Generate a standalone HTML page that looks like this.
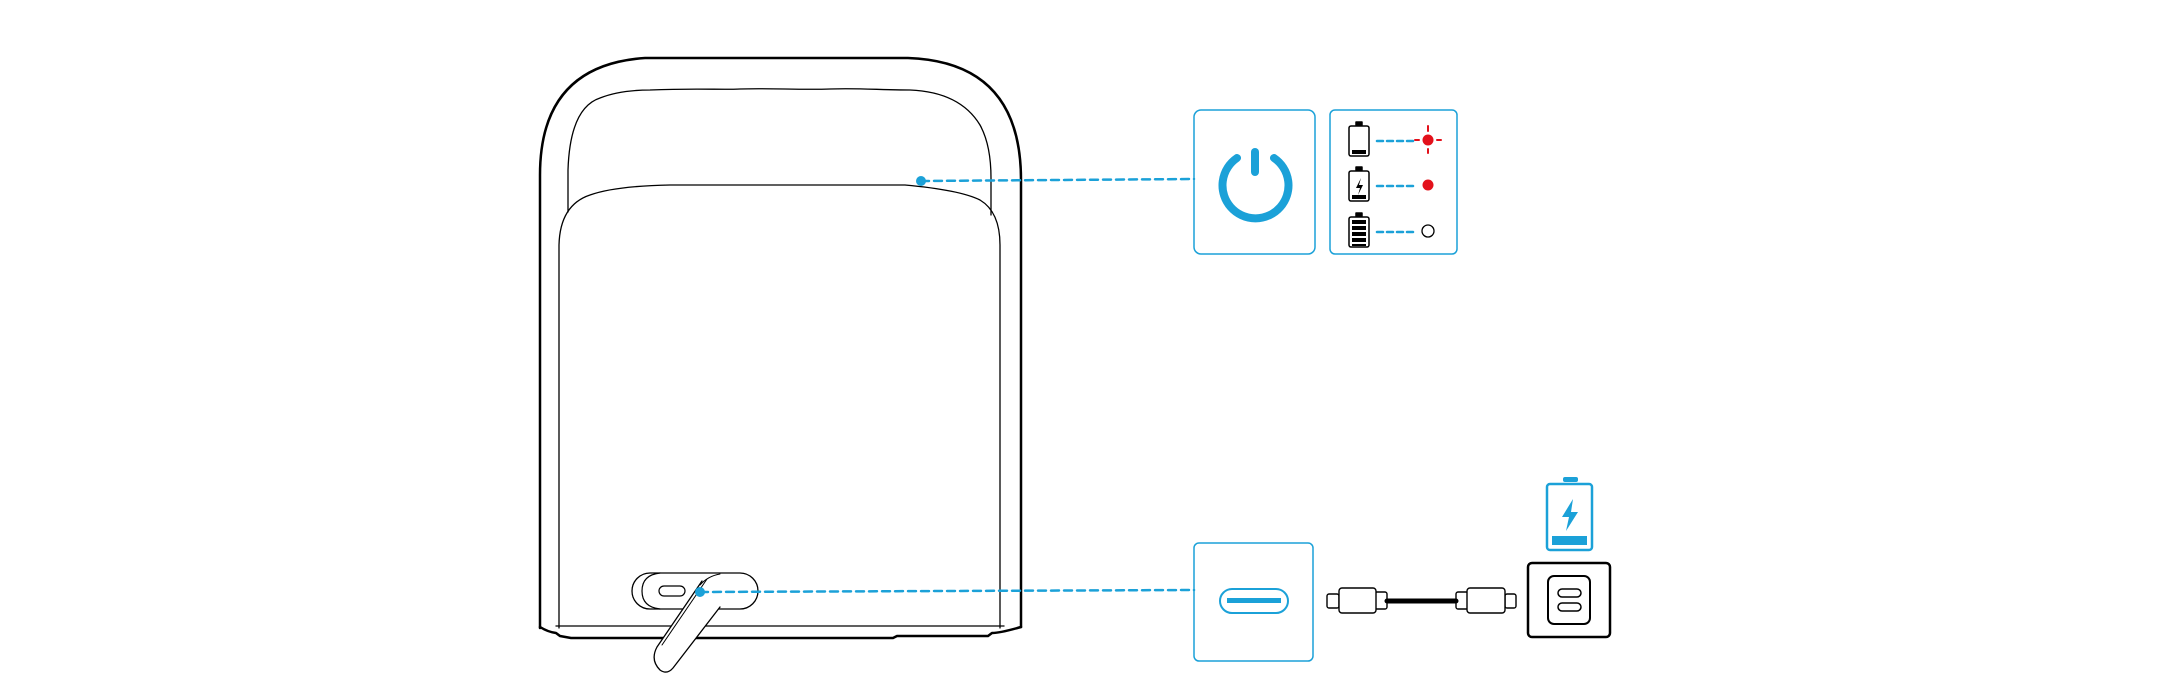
<!DOCTYPE html>
<html><head><meta charset="utf-8"><style>html,body{margin:0;padding:0;background:#fff;width:2180px;height:678px;overflow:hidden}</style></head>
<body>
<svg width="2180" height="678" viewBox="0 0 2180 678" xmlns="http://www.w3.org/2000/svg" fill="none" stroke-linecap="round" stroke-linejoin="round">
<!-- outer body -->
<path d="M540 628 L540 175 Q540 65 645 58 L908 58 Q1021 62 1021 180 L1021 627" stroke="#000" stroke-width="2.5"/>
<path d="M540 627 Q548 632 556 633 L560 636 L571 638 L893 638 L897 636 L988 636 L992 633 Q1000 633 1021 627" stroke="#000" stroke-width="2.5"/>
<!-- handle hole -->
<path d="M568 212 L568 170 Q570 108 600 98 Q620 90 650 90 C700 88 720 90 740 89 C770 88 800 90 830 89 C860 88 880 90 910 90 Q960 92 980 125 Q991 145 991 178 L991 215" stroke="#000" stroke-width="1.3"/>
<!-- inner panel -->
<path d="M559 628 L559 245 Q560 205 590 195 Q615 186 670 185 L905 185 Q960 190 980 200 Q1000 212 1000 245 L1000 628" stroke="#000" stroke-width="1.3"/>
<path d="M556 626 L1004 626" stroke="#000" stroke-width="1.3"/>
<!-- port housing -->
<rect x="632" y="573" width="126" height="36" rx="18" fill="#fff" stroke="#000" stroke-width="1.3"/>
<path d="M660 573 Q642 575 642 591 Q642 607 660 609" stroke="#000" stroke-width="1.2"/>
<rect x="659" y="586" width="26" height="10" rx="5" stroke="#000" stroke-width="1.2"/>
<!-- lever -->
<path d="M702 581 L657 647 Q650 660 660 670 Q667 675 673 668 L720 607" fill="#fff" stroke="#000" stroke-width="1.3"/>
<path d="M707 579 L662 645" stroke="#000" stroke-width="1"/>
<path d="M700 585 Q708 576 720 574" stroke="#000" stroke-width="1"/>
<!-- connectors -->
<line x1="921" y1="181" x2="1194" y2="179" stroke="#1ba1d8" stroke-width="2.5" stroke-dasharray="8 5"/>
<circle cx="921" cy="181" r="5" fill="#1ba1d8"/>
<line x1="700" y1="592" x2="1194" y2="590" stroke="#1ba1d8" stroke-width="2.5" stroke-dasharray="8 5"/>
<circle cx="700" cy="592" r="5" fill="#1ba1d8"/>
<!-- power box -->
<rect x="1194" y="110" width="121" height="144" rx="7" stroke="#1ba1d8" stroke-width="1.5"/>
<path d="M1237 158 A33 33 0 1 0 1274 158" stroke="#1ba1d8" stroke-width="8"/>
<line x1="1255" y1="152" x2="1255" y2="172" stroke="#1ba1d8" stroke-width="8"/>
<!-- LED box -->
<rect x="1330" y="110" width="127" height="144" rx="5" stroke="#1ba1d8" stroke-width="1.5"/>
<g stroke="#000" stroke-width="1.5">
<rect x="1349" y="126" width="20" height="30" rx="2"/><rect x="1356" y="122" width="6" height="3" fill="#000"/>
<rect x="1349" y="171" width="20" height="30" rx="2"/><rect x="1356" y="167" width="6" height="3" fill="#000"/>
<rect x="1349" y="217" width="20" height="30" rx="2"/><rect x="1356" y="213" width="6" height="3" fill="#000"/>
</g>
<rect x="1352" y="150" width="14" height="4" fill="#000"/>
<rect x="1352" y="195" width="14" height="4" fill="#000"/>
<path d="M1361 178 L1356 188 L1360 188 L1358 195 L1363 185 L1359 185 Z" fill="#000"/>
<g fill="#000"><rect x="1352" y="220" width="14" height="4"/><rect x="1352" y="226" width="14" height="4"/><rect x="1352" y="232" width="14" height="4"/><rect x="1352" y="238" width="14" height="4"/><rect x="1352" y="244" width="14" height="2"/></g>
<g stroke="#1ba1d8" stroke-width="2.5" stroke-dasharray="6 4">
<line x1="1377" y1="141" x2="1414" y2="141"/><line x1="1377" y1="186" x2="1414" y2="186"/><line x1="1377" y1="232" x2="1414" y2="232"/></g>
<circle cx="1428" cy="140" r="5.5" fill="#e3111b"/>
<g stroke="#e3111b" stroke-width="2"><line x1="1415" y1="140" x2="1419" y2="140"/><line x1="1437" y1="140" x2="1441" y2="140"/><line x1="1428" y1="126" x2="1428" y2="131"/><line x1="1428" y1="149" x2="1428" y2="153"/></g>
<circle cx="1428" cy="185" r="5.5" fill="#e3111b"/>
<circle cx="1428" cy="231" r="6" stroke="#000" stroke-width="1.3"/>
<!-- USB box -->
<rect x="1194" y="543" width="119" height="118" rx="5" stroke="#1ba1d8" stroke-width="1.5"/>
<rect x="1220" y="589" width="68" height="24" rx="12" stroke="#1ba1d8" stroke-width="2"/>
<rect x="1227" y="598" width="54" height="5" fill="#1ba1d8"/>
<!-- cable -->
<g stroke="#000" stroke-width="1.4" fill="#fff">
<rect x="1327" y="594" width="12" height="14" rx="2"/>
<rect x="1375" y="592" width="12" height="17" rx="2"/>
<rect x="1339" y="588" width="37" height="25" rx="3"/>
<rect x="1456" y="592" width="12" height="17" rx="2"/>
<rect x="1505" y="594" width="11" height="14" rx="2"/>
<rect x="1467" y="588" width="38" height="25" rx="3"/>
</g>
<line x1="1387" y1="601" x2="1456" y2="601" stroke="#000" stroke-width="5"/>
<!-- charger -->
<rect x="1528" y="563" width="82" height="74" rx="4" stroke="#000" stroke-width="2.5"/>
<rect x="1548" y="576" width="42" height="48" rx="6" stroke="#000" stroke-width="2"/>
<rect x="1558" y="589" width="23" height="8" rx="4" stroke="#000" stroke-width="1.5"/>
<rect x="1558" y="603" width="23" height="8" rx="4" stroke="#000" stroke-width="1.5"/>
<!-- blue battery -->
<rect x="1547" y="484" width="45" height="66" rx="3" stroke="#1ba1d8" stroke-width="2.5"/>
<rect x="1563" y="477" width="15" height="5" rx="2" fill="#1ba1d8"/>
<rect x="1552" y="536" width="35" height="9" fill="#1ba1d8"/>
<path d="M1573 499 L1562 517 L1569 517 L1566 531 L1578 512 L1571 512 Z" fill="#1ba1d8"/>
</svg>
</body></html>
